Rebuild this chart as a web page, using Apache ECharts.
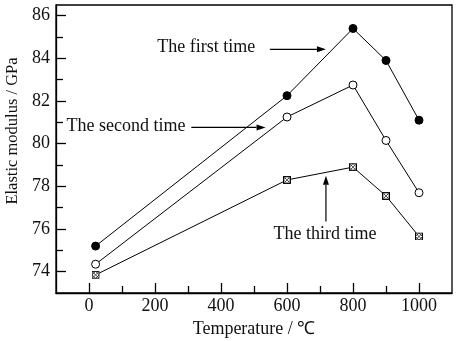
<!DOCTYPE html>
<html><head><meta charset="utf-8">
<script src="https://cdn.jsdelivr.net/npm/echarts@6/dist/echarts.min.js"></script>
<style>html,body{margin:0;padding:0;background:#fff}#c{width:461px;height:341px}</style>
</head><body><div id="c"></div>
<script>
const temps = [20, 600, 800, 900, 1000];
const firstTime = [75.2, 82.25, 85.4, 83.9, 81.1];
const secondTime = [74.35, 81.25, 82.75, 80.15, 77.7];
const thirdTime = [73.85, 78.3, 78.9, 77.55, 75.65];
const xMajorTicks = [0, 200, 400, 600, 800, 1000];
const xMinorTicks = [100, 300, 500, 700, 900];
const yMajorTicks = [74, 76, 78, 80, 82, 84, 86];
const yMinorTicks = [75, 77, 79, 81, 83, 85];
// annotation anchors in data space
const notes = [
  {text: 'The first time', tx: 355, ty: 84.5, ax1: 548, ay1: 84.42, ax2: 718, ay2: 84.42},
  {text: 'The second time', tx: 112, ty: 80.82, ax1: 310, ay1: 80.76, ax2: 535, ay2: 80.76},
  {text: 'The third time', tx: 715, ty: 75.75, ax1: 718, ay1: 76.35, ax2: 718, ay2: 78.5}
];

const FONT = '"Liberation Serif","Times New Roman",serif';
const hatch = 'image://data:image/svg+xml;utf8,' + encodeURIComponent(
  '<svg xmlns="http://www.w3.org/2000/svg" width="16" height="16"><rect x="1" y="1" width="14" height="14" fill="#fff" stroke="#000" stroke-width="2"/><path d="M1 1L15 15M15 1L1 15M8 1L15 8M1 8L8 15M8 1L1 8M15 8L8 15" stroke="#222" stroke-width="1.6"/></svg>');

const pair = (xs, ys) => xs.map((x, i) => [x, ys[i]]);
const chart = echarts.init(document.getElementById('c'));
const base = {type:'line', xAxisIndex:0, yAxisIndex:0, lineStyle:{color:'#000', width:1}, animation:false, z:3, showAllSymbol:true};
const fmt = v => String(v);
chart.setOption({
  animation: false,
  backgroundColor: '#fff',
  grid: {left:56, right:9, top:5, bottom:48, show:true, borderColor:'#000', borderWidth:1.3, containLabel:false, outerBoundsMode:'none'},
  xAxis: [
    {type:'value', min:-100, max:1100, position:'bottom', name:'Temperature / \u2103', nameLocation:'middle', nameGap:22,
     nameTextStyle:{fontFamily:FONT, fontSize:18, color:'#111'},
     axisLine:{onZero:false, lineStyle:{color:'#000', width:1.3}}, splitLine:{show:false},
     axisTick:{inside:true, length:10, customValues:xMajorTicks, lineStyle:{color:'#000', width:1.3}},
     axisLabel:{customValues:xMajorTicks, formatter:fmt, fontFamily:FONT, fontSize:18, color:'#111', margin:4}},
    {type:'value', min:-100, max:1100, position:'bottom', axisLine:{show:false, onZero:false}, splitLine:{show:false},
     axisTick:{inside:true, length:7, customValues:xMinorTicks, lineStyle:{color:'#000', width:1.3}},
     axisLabel:{show:false}}
  ],
  yAxis: [
    {type:'value', min:73, max:86.5, position:'left', name:'Elastic modulus / GPa', nameLocation:'middle', nameGap:32,
     nameTextStyle:{fontFamily:FONT, fontSize:16.5, color:'#111', padding:[0, 0, 0, 36]},
     axisLine:{onZero:false, lineStyle:{color:'#000', width:1.3}}, splitLine:{show:false},
     axisTick:{inside:true, length:10, customValues:yMajorTicks, lineStyle:{color:'#000', width:1.3}},
     axisLabel:{customValues:yMajorTicks, formatter:fmt, fontFamily:FONT, fontSize:18, color:'#111', margin:6}},
    {type:'value', min:73, max:86.5, position:'left', axisLine:{show:false, onZero:false}, splitLine:{show:false},
     axisTick:{inside:true, length:7, customValues:yMinorTicks, lineStyle:{color:'#000', width:1.3}},
     axisLabel:{show:false}}
  ],
  series: [
    Object.assign({}, base, {name:'first', data:pair(temps, firstTime), symbol:'circle', symbolSize:8,
      itemStyle:{color:'#000', borderColor:'#000', borderWidth:1}}),
    Object.assign({}, base, {name:'second', data:pair(temps, secondTime), symbol:'circle', symbolSize:8,
      itemStyle:{color:'#fff', borderColor:'#000', borderWidth:1}}),
    Object.assign({}, base, {name:'third', data:pair(temps, thirdTime), symbol:hatch, symbolSize:8,
      itemStyle:{color:'#000'}})
  ]
});

const px = (x, y) => chart.convertToPixel({xAxisIndex:0, yAxisIndex:0}, [x, y]);
const g = [];
notes.forEach(n => {
  const t = px(n.tx, n.ty);
  g.push({type:'text', x:t[0], y:t[1], style:{text:n.text, font:'18px ' + FONT, fill:'#111', textAlign:'center', textVerticalAlign:'middle'}, z:10});
  const a = px(n.ax1, n.ay1), b = px(n.ax2, n.ay2);
  const dx = b[0]-a[0], dy = b[1]-a[1], L = Math.hypot(dx, dy), ux = dx/L, uy = dy/L;
  const hl = 9, hw = 3;
  const base2 = [b[0]-ux*hl, b[1]-uy*hl];
  g.push({type:'line', shape:{x1:a[0], y1:a[1], x2:base2[0], y2:base2[1]}, style:{stroke:'#000', lineWidth:1.2}, z:10});
  g.push({type:'polygon', shape:{points:[[b[0], b[1]], [base2[0]-uy*hw, base2[1]+ux*hw], [base2[0]+uy*hw, base2[1]-ux*hw]]}, style:{fill:'#000'}, z:10});
});
chart.setOption({graphic: g});
</script></body></html>
